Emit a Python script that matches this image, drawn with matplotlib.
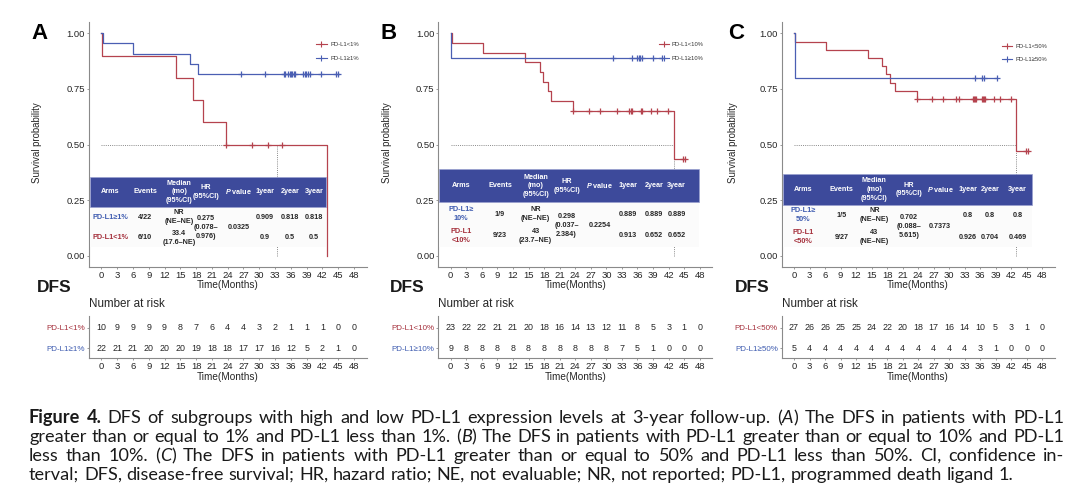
import re
import numpy as np
import matplotlib
matplotlib.use('Agg')
import matplotlib.pyplot as plt
from matplotlib import font_manager
from matplotlib.patches import Rectangle
from matplotlib.lines import Line2D
import matplotlib.transforms as mtrans

# ---------------- data ----------------
months_ticks = list(range(0, 49, 3))
prob_ticks = [0.0, 0.25, 0.5, 0.75, 1.0]
prob_labels = ["0.00", "0.25", "0.50", "0.75", "1.00"]

# Panel A  (PD-L1 >=1% vs <1%)
a_hi_times = [0, 0.3, 6.0, 16.9, 18.4]
a_hi_surv = [1.0, 0.955, 0.909, 0.864, 0.818]
a_hi_end = 45.2
a_hi_cens = [26.5, 31.1, 34.7, 34.9, 35.5, 35.8, 36.1, 36.3, 36.5, 36.7, 38.3, 38.6, 38.9,
             39.3, 39.6, 41.8, 44.6, 45.0]
a_lo_times = [0, 0.2, 14.2, 17.5, 19.4, 23.7, 42.9]
a_lo_surv = [1.0, 0.9, 0.8, 0.7, 0.6, 0.5, 0.0]
a_lo_end = 42.9
a_lo_cens = [23.7, 28.7, 31.7, 34.3]
a_median = 33.4
a_labels = ["PD-L1<1%", "PD-L1≥1%"]
a_risk_lo = [10, 9, 9, 9, 9, 8, 7, 6, 4, 4, 3, 2, 1, 1, 1, 0, 0]
a_risk_hi = [22, 21, 21, 20, 20, 20, 19, 18, 18, 17, 17, 16, 12, 5, 2, 1, 0]
a_tab_hi = ["PD-L1≥1%", "4/22", "NR\n(NE–NE)", "0.909", "0.818", "0.818"]
a_tab_lo = ["PD-L1<1%", "6/10", "33.4\n(17.6–NE)", "0.9", "0.5", "0.5"]
a_hr = "0.275\n(0.078–\n0.976)"
a_p = "0.0325"

# Panel B  (PD-L1 >=10% vs <10%)
b_hi_times = [0, 0.1]
b_hi_surv = [1.0, 0.889]
b_hi_end = 40.8
b_hi_cens = [31.3, 34.9, 35.9, 36.2, 36.5, 36.8, 38.9, 40.8]
b_lo_times = [0, 0.2, 6.2, 14.4, 17.2, 17.7, 18.7, 19.3, 23.6, 43.0]
b_lo_surv = [1.0, 0.957, 0.913, 0.870, 0.826, 0.783, 0.739, 0.696, 0.652, 0.435]
b_lo_end = 45.1
b_lo_cens = [23.6, 26.7, 28.8, 32.0, 34.4, 34.7, 35.0, 36.6, 36.9, 38.6, 39.7, 41.9, 44.7, 45.1]
b_median = 43.0
b_labels = ["PD-L1<10%", "PD-L1≥10%"]
b_risk_lo = [23, 22, 22, 21, 21, 20, 18, 16, 14, 13, 12, 11, 8, 5, 3, 1, 0]
b_risk_hi = [9, 8, 8, 8, 8, 8, 8, 8, 8, 8, 8, 7, 5, 1, 0, 0, 0]
b_tab_hi = ["PD-L1≥\n10%", "1/9", "NR\n(NE–NE)", "0.889", "0.889", "0.889"]
b_tab_lo = ["PD-L1\n<10%", "9/23", "43\n(23.7–NE)", "0.913", "0.652", "0.652"]
b_hr = "0.298\n(0.037–\n2.384)"
b_p = "0.2254"

# Panel C  (PD-L1 >=50% vs <50%)
c_hi_times = [0, 0.1]
c_hi_surv = [1.0, 0.8]
c_hi_end = 39.2
c_hi_cens = [35.0, 36.3, 36.8, 39.2]
c_lo_times = [0, 0.2, 6.1, 14.3, 17.1, 17.7, 18.6, 19.5, 23.7, 43.0]
c_lo_surv = [1.0, 0.963, 0.926, 0.889, 0.852, 0.815, 0.778, 0.741, 0.704, 0.469]
c_lo_end = 45.3
c_lo_cens = [23.7, 26.6, 28.8, 31.3, 32.0, 34.6, 34.8, 35.0, 35.2, 36.3, 36.5, 36.7, 36.9,
             38.7, 39.8, 41.9, 44.9, 45.3]
c_median = 43.0
c_labels = ["PD-L1<50%", "PD-L1≥50%"]
c_risk_lo = [27, 26, 26, 25, 25, 24, 22, 20, 18, 17, 16, 14, 10, 5, 3, 1, 0]
c_risk_hi = [5, 4, 4, 4, 4, 4, 4, 4, 4, 4, 4, 4, 3, 1, 0, 0, 0]
c_tab_hi = ["PD-L1≥\n50%", "1/5", "NR\n(NE–NE)", "0.8", "0.8", "0.8"]
c_tab_lo = ["PD-L1\n<50%", "9/27", "43\n(NE–NE)", "0.926", "0.704", "0.469"]
c_hr = "0.702\n(0.088–\n5.615)"
c_p = "0.7373"

tab_headers = ["Arms", "Events", "Median\n(mo)\n(95%CI)", "HR\n(95%CI)",
               r"$\mathit{P}$ value", "1year", "2year", "3year"]

cap_lines = [
    "**Figure 4.** DFS of subgroups with high and low PD-L1 expression levels at 3-year follow-up. (*A*) The DFS in patients with PD-L1",
    "greater than or equal to 1% and PD-L1 less than 1%. (*B*) The DFS in patients with PD-L1 greater than or equal to 10% and PD-L1",
    "less than 10%. (*C*) The DFS in patients with PD-L1 greater than or equal to 50% and PD-L1 less than 50%. CI, confidence in-",
    "terval; DFS, disease-free survival; HR, hazard ratio; NE, not evaluable; NR, not reported; PD-L1, programmed death ligand 1.",
]

# ---------------- style ----------------
RED = '#B5434E'
BLUE = '#4A5FB3'
HDR = '#3D4A9B'
LBL_RED = '#A5303C'
LBL_BLUE = '#3F5CB0'
SPINE = '#8a8a8a'
TXT = '#262626'

plt.rcParams['font.family'] = ['Liberation Sans', 'DejaVu Sans']
plt.rcParams['mathtext.fontset'] = 'custom'
plt.rcParams['mathtext.it'] = 'Liberation Sans:italic:bold'
plt.rcParams['mathtext.rm'] = 'Liberation Sans:bold'

W, H = 1080, 492
fig = plt.figure(figsize=(W / 100, H / 100), dpi=100)
fig.patch.set_facecolor('white')


def add_ax(left, top, right, bottom):
    return fig.add_axes([left / W, 1 - bottom / H, (right - left) / W, (bottom - top) / H])


def style_ax(ax):
    for s in ['top', 'right']:
        ax.spines[s].set_visible(False)
    for s in ['left', 'bottom']:
        ax.spines[s].set_color(SPINE)
        ax.spines[s].set_linewidth(0.8)
    ax.tick_params(axis='both', colors=SPINE, labelcolor=TXT, length=1.6, width=0.6,
                   labelsize=6.8)
    ax.tick_params(axis='x', pad=1.2)
    ax.tick_params(axis='y', pad=1.0)


def surv_at(times, surv, t):
    i = np.searchsorted(np.asarray(times), t, side='right') - 1
    return np.asarray(surv)[i]


panels = [
    dict(letter='A', left=88.7, zero=101.3, ppm=5.265, ylab_x=37.5, letter_x=31, dfs_x=37,
         hi=(a_hi_times, a_hi_surv, a_hi_end, a_hi_cens), lo=(a_lo_times, a_lo_surv, a_lo_end, a_lo_cens),
         med=a_median, labels=a_labels, risk_lo=a_risk_lo, risk_hi=a_risk_hi,
         tab_hi=a_tab_hi, tab_lo=a_tab_lo, hr=a_hr, p=a_p,
         tab=(-2.1, 42.6, 0.218, 0.355, 0.04), rows=(0.173, 0.081, 0.127),
         colfr=[0.086, 0.233, 0.378, 0.491, 0.630, 0.742, 0.848, 0.951],
         leg=(315.5, 326.5, 330.5, 44.3, 58.3)),
    dict(letter='B', left=438.2, zero=450.7, ppm=5.19, ylab_x=387.5, letter_x=381, dfs_x=390,
         hi=(b_hi_times, b_hi_surv, b_hi_end, b_hi_cens), lo=(b_lo_times, b_lo_surv, b_lo_end, b_lo_cens),
         med=b_median, labels=b_labels, risk_lo=b_risk_lo, risk_hi=b_risk_hi,
         tab_hi=b_tab_hi, tab_lo=b_tab_lo, hr=b_hr, p=b_p,
         tab=(-2.3, 47.9, 0.24, 0.388, 0.04), rows=(0.186, 0.089, 0.136),
         colfr=[0.086, 0.235, 0.372, 0.491, 0.619, 0.725, 0.826, 0.913],
         leg=(659.0, 669.0, 671.7, 44.3, 58.3)),
    dict(letter='C', left=781.6, zero=794.0, ppm=5.17, ylab_x=733, letter_x=728, dfs_x=735,
         hi=(c_hi_times, c_hi_surv, c_hi_end, c_hi_cens), lo=(c_lo_times, c_lo_surv, c_lo_end, c_lo_cens),
         med=c_median, labels=c_labels, risk_lo=c_risk_lo, risk_hi=c_risk_hi,
         tab_hi=c_tab_hi, tab_lo=c_tab_lo, hr=c_hr, p=c_p,
         tab=(-2.07, 46.0, 0.228, 0.367, 0.04), rows=(0.181, 0.082, 0.131),
         colfr=[0.081, 0.235, 0.366, 0.506, 0.631, 0.742, 0.832, 0.943],
         leg=(1001.5, 1012.0, 1015.0, 46.0, 59.3)),
]

XL = (-2.4, 50.4)
for P in panels:
    width = (XL[1] - XL[0]) * P['ppm']
    left = P['left']
    right = left + width
    ax = add_ax(left, 22.2, right, 266.8)
    ax.set_xlim(*XL)
    ax.set_ylim(-0.05, 1.05)
    style_ax(ax)
    ax.set_xticks(months_ticks)
    ax.set_yticks(prob_ticks)
    ax.set_yticklabels(prob_labels)

    # median lines
    ax.plot([0, P['med']], [0.5, 0.5], ls=(0, (1, 1.2)), color='#8a8a8a', lw=0.7, zorder=1)
    ax.plot([P['med'], P['med']], [0, 0.5], ls=(0, (1, 1.2)), color='#8a8a8a', lw=0.7, zorder=1)

    for grp, col in ((P['lo'], RED), (P['hi'], BLUE)):
        times, surv, end, cens = grp
        xs = list(times) + [end]
        ys = list(surv) + [surv[-1]]
        ax.step(xs, ys, where='post', color=col, lw=0.9, zorder=2)
        cy = [surv_at(times, surv, t) for t in cens]
        ax.plot(cens, cy, ls='none', marker='+', ms=4.8, mew=0.9, color=col, zorder=2.5)

    # summary table
    x0, x1, yh0, yh1, yb = P['tab']
    r1, r2, rm = P['rows']
    ax.add_patch(Rectangle((x0, yb), x1 - x0, yh0 - yb, fc='#FBFBFB', ec='none', zorder=5))
    ax.add_patch(Rectangle((x0, yh0), x1 - x0, yh1 - yh0, fc=HDR, ec='#9aa0cf', lw=0.5, zorder=5))
    xs = [x0 + f * (x1 - x0) for f in P['colfr']]
    yc = (yh0 + yh1) / 2
    for x, h in zip(xs, tab_headers):
        ax.text(x, yc, h, color='white', fontsize=5.2, fontweight='bold', ha='center', va='center',
                ma='center', linespacing=1.35, zorder=6)
    for row, y, lcol in ((P['tab_hi'], r1, LBL_BLUE), (P['tab_lo'], r2, LBL_RED)):
        ax.text(xs[0], y, row[0], color=lcol, fontsize=5.3, fontweight='bold', ha='center',
                va='center', ma='center', linespacing=1.4, zorder=6)
        for ci, val in ((1, row[1]), (2, row[2]), (5, row[3]), (6, row[4]), (7, row[5])):
            ax.text(xs[ci], y, val, color=TXT, fontsize=5.2, fontweight='bold', ha='center',
                    va='center', ma='center', linespacing=1.4, zorder=6)
    ax.text(xs[3], rm, P['hr'], color=TXT, fontsize=5.2, fontweight='bold', ha='center',
            va='center', ma='center', linespacing=1.4, zorder=6)
    ax.text(xs[4], rm, P['p'], color=TXT, fontsize=5.2, fontweight='bold', ha='center',
            va='center', zorder=6)

    # x label
    blend = mtrans.blended_transform_factory(ax.transData, ax.transAxes)
    ax.text(24, -(285 - 266.8) / 244.6, 'Time(Months)', transform=blend, ha='center', va='center',
            fontsize=7.2, color=TXT)
    fig.text(P['ylab_x'] / W, 1 - 143 / H, 'Survival probability', rotation=90, ha='center',
             va='center', fontsize=6.9, color=TXT)

    # legend
    lx0, lx1, tx, ly1, ly2 = P['leg']
    for yy, col, lab in ((ly1, RED, P['labels'][0]), (ly2, BLUE, P['labels'][1])):
        fig.add_artist(Line2D([lx0 / W, lx1 / W], [1 - yy / H, 1 - yy / H], color=col, lw=0.8))
        fig.add_artist(Line2D([(lx0 + lx1) / 2 / W], [1 - yy / H], color=col, marker='+', ms=4,
                              mew=0.8, ls='none'))
        fig.text(tx / W, 1 - yy / H, lab, fontsize=4.2, color='#333333', ha='left', va='center')

    # panel letter and DFS
    fig.text(P['letter_x'] / W, 1 - 33 / H, P['letter'], fontsize=16, fontweight='bold',
             ha='left', va='center', color='black')
    fig.text(P['dfs_x'] / W, 1 - 287 / H, 'DFS', fontsize=12.5, fontweight='bold', ha='left',
             va='center', color='#1a1a1a')

    # risk table
    axr = add_ax(left, 315.7, right, 358.3)
    axr.set_xlim(*XL)
    axr.set_ylim(0.5, 2.6)
    style_ax(axr)
    axr.set_xticks(months_ticks)
    axr.set_yticks([1, 2])
    axr.set_yticklabels([P['labels'][1], P['labels'][0]], fontsize=5.8)
    tl = axr.get_yticklabels()
    tl[0].set_color(LBL_BLUE)
    tl[1].set_color(LBL_RED)
    for t, n in zip(months_ticks, P['risk_lo']):
        axr.text(t, 2, str(n), ha='center', va='center', fontsize=6.4, color=TXT)
    for t, n in zip(months_ticks, P['risk_hi']):
        axr.text(t, 1, str(n), ha='center', va='center', fontsize=6.4, color=TXT)
    blend_r = mtrans.blended_transform_factory(axr.transData, axr.transAxes)
    axr.text(24, -(376.7 - 358.3) / 42.6, 'Time(Months)', transform=blend_r, ha='center',
             va='center', fontsize=7.2, color=TXT)
    fig.text(left / W, 1 - 304.3 / H, 'Number at risk', fontsize=8.4, ha='left', va='center',
             color=TXT)

# ---------------- caption ----------------
def have(name):
    try:
        font_manager.findfont(font_manager.FontProperties(family=name), fallback_to_default=False)
        return True
    except Exception:
        return False


cap_family = next((f for f in ['Lato', 'Liberation Sans'] if have(f)), 'DejaVu Sans')
renderer = fig.canvas.get_renderer()


def parse(line):
    parts = []
    weight, style = 'normal', 'normal'
    for tok in re.split(r'(\*\*|\*)', line):
        if tok == '**':
            weight = 'bold' if weight == 'normal' else 'normal'
            continue
        if tok == '*':
            style = 'italic' if style == 'normal' else 'normal'
            continue
        if tok:
            parts.append((tok, weight, style))
    words = [[]]
    for txt, w, s in parts:
        pieces = txt.split(' ')
        for k, pc in enumerate(pieces):
            if k > 0:
                words.append([])
            if pc:
                words[-1].append((pc, w, s))
    return [w for w in words if w]


def measure(txt, w, s, size):
    t = fig.text(0, 0, txt, fontsize=size, family=[cap_family, 'DejaVu Sans'], fontweight=w,
                 fontstyle=s)
    wd = t.get_window_extent(renderer=renderer).width
    t.remove()
    return wd


X_L, X_R = 29.0, 1064.0
target = X_R - X_L
parsed = [parse(l) for l in cap_lines]


def natural(words, size):
    sp = measure('x x', 'normal', 'normal', size) - measure('xx', 'normal', 'normal', size)
    ws = [sum(measure(p[0], p[1], p[2], size) for p in wd) for wd in words]
    return ws, sp


size0 = 12.0
nat_max = 0
for words in parsed[:3]:
    ws, sp = natural(words, size0)
    nat_max = max(nat_max, sum(ws) + sp * (len(ws) - 1))
size = size0 * target * 0.985 / nat_max
size = max(9.5, min(13.2, size))

baselines = [423.3, 442.2, 461.1, 480.0]
for li, words in enumerate(parsed):
    ws, sp = natural(words, size)
    if li < 3:
        gap = (target - sum(ws)) / (len(ws) - 1)
    else:
        gap = sp
    x = X_L
    for wd, wdw in zip(words, ws):
        xx = x
        for (txt, w, s) in wd:
            fig.text(xx / W, 1 - baselines[li] / H, txt, fontsize=size,
                     family=[cap_family, 'DejaVu Sans'], fontweight=w, fontstyle=s,
                     ha='left', va='baseline', color='#1a1a1a')
            xx += measure(txt, w, s, size)
        x += wdw + gap

fig.savefig('out.png', dpi=100, facecolor='white')
